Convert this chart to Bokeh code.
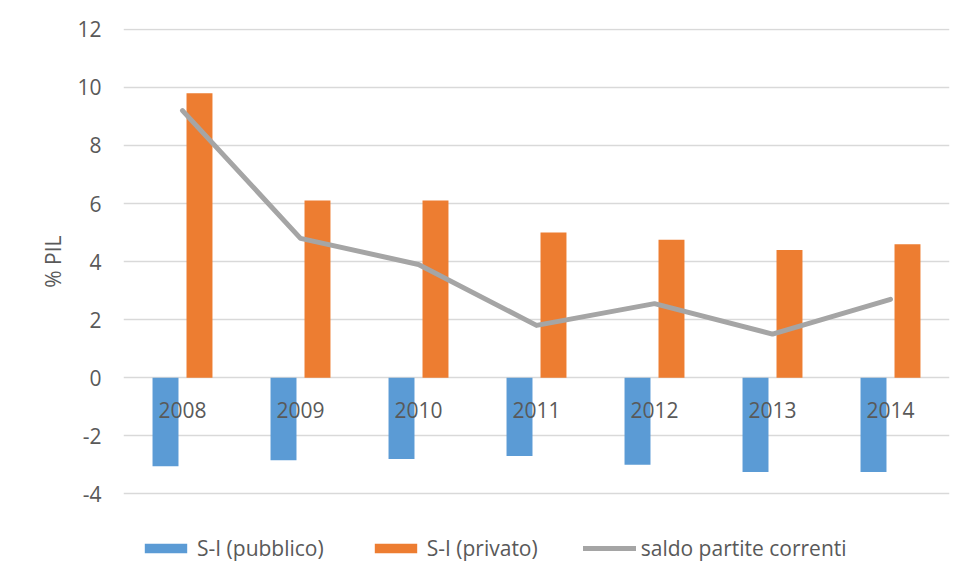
from bokeh.plotting import figure
from bokeh.models import (ColumnDataSource, FactorRange, Range1d, FixedTicker,
                          Legend, LegendItem, Title)
from bokeh.transform import dodge
from bokeh.core.properties import value
from bokeh.embed import file_html
from bokeh.resources import INLINE

years = ["2008", "2009", "2010", "2011", "2012", "2013", "2014"]
pubblico = [-3.05, -2.85, -2.8, -2.7, -3.0, -3.25, -3.25]
privato = [9.8, 6.1, 6.1, 5.0, 4.75, 4.4, 4.6]
saldo = [9.2, 4.8, 3.9, 1.8, 2.55, 1.5, 2.7]
y_ticks = [-4, -2, 0, 2, 4, 6, 8, 10, 12]
labels = ["S-I (pubblico)", "S-I (privato)", "saldo partite correnti"]
y_title = "% PIL"

FONT = "Open Sans"
TXT = "#595959"

src = ColumnDataSource(dict(year=years, pub=pubblico, priv=privato, saldo=saldo,
                            zero=[0] * len(years)))

# the frame reaches down to hold the legend; ticks/grid only from -4 to 12
p = figure(x_range=FactorRange(*years), y_range=Range1d(-6.99, 12.03),
           frame_width=826, frame_height=552,
           min_border_left=123, min_border_right=28, min_border_top=28,
           min_border_bottom=4, output_backend="svg", toolbar_location=None,
           x_axis_location=None)
p.outline_line_color = None
p.background_fill_color = "white"
p.border_fill_color = "white"

p.xgrid.grid_line_color = None
p.ygrid.grid_line_color = "#d9d9d9"
p.ygrid.grid_line_width = 1.5
p.yaxis.ticker = FixedTicker(ticks=y_ticks)
p.yaxis.major_label_overrides = {t: str(t) for t in y_ticks}
p.yaxis.axis_line_color = None
p.yaxis.major_tick_line_color = None
p.yaxis.minor_tick_line_color = None
p.yaxis.major_label_standoff = 16
p.yaxis.major_label_text_font = FONT
p.yaxis.major_label_text_font_size = "21px"
p.yaxis.major_label_text_color = TXT

title = Title(text=y_title, align="right", offset=207, standoff=15,
              text_font=FONT, text_font_size="21px", text_font_style="normal",
              text_color=TXT)
p.add_layout(title, "left")

r_pub = p.vbar(x=dodge("year", -0.144, range=p.x_range), top="pub", bottom=0,
               width=0.22, source=src, fill_color="#5b9bd5", line_color=None)
r_priv = p.vbar(x=dodge("year", 0.144, range=p.x_range), top="priv", bottom=0,
                width=0.22, source=src, fill_color="#ed7d31", line_color=None)
r_line = p.line(x="year", y="saldo", source=src, line_color="#a5a5a5",
                line_width=5, line_cap="round", line_join="round")

p.text(x="year", y="zero", text="year", source=src, text_align="center",
       text_baseline="middle", y_offset=32, text_font=value(FONT),
       text_font_size="21px", text_color=TXT)

legend = Legend(items=[LegendItem(label=labels[0], renderers=[r_pub]),
                       LegendItem(label=labels[1], renderers=[r_priv]),
                       LegendItem(label=labels[2], renderers=[r_line])],
                orientation="horizontal", location=(16, 18),
                glyph_width=53, glyph_height=12, spacing=45, label_standoff=5,
                label_text_font=FONT, label_text_font_size="21px",
                label_text_color=TXT, border_line_color=None,
                background_fill_alpha=0, padding=0, margin=0)
p.add_layout(legend, "center")

open("out.html", "w").write(file_html(p, INLINE))
